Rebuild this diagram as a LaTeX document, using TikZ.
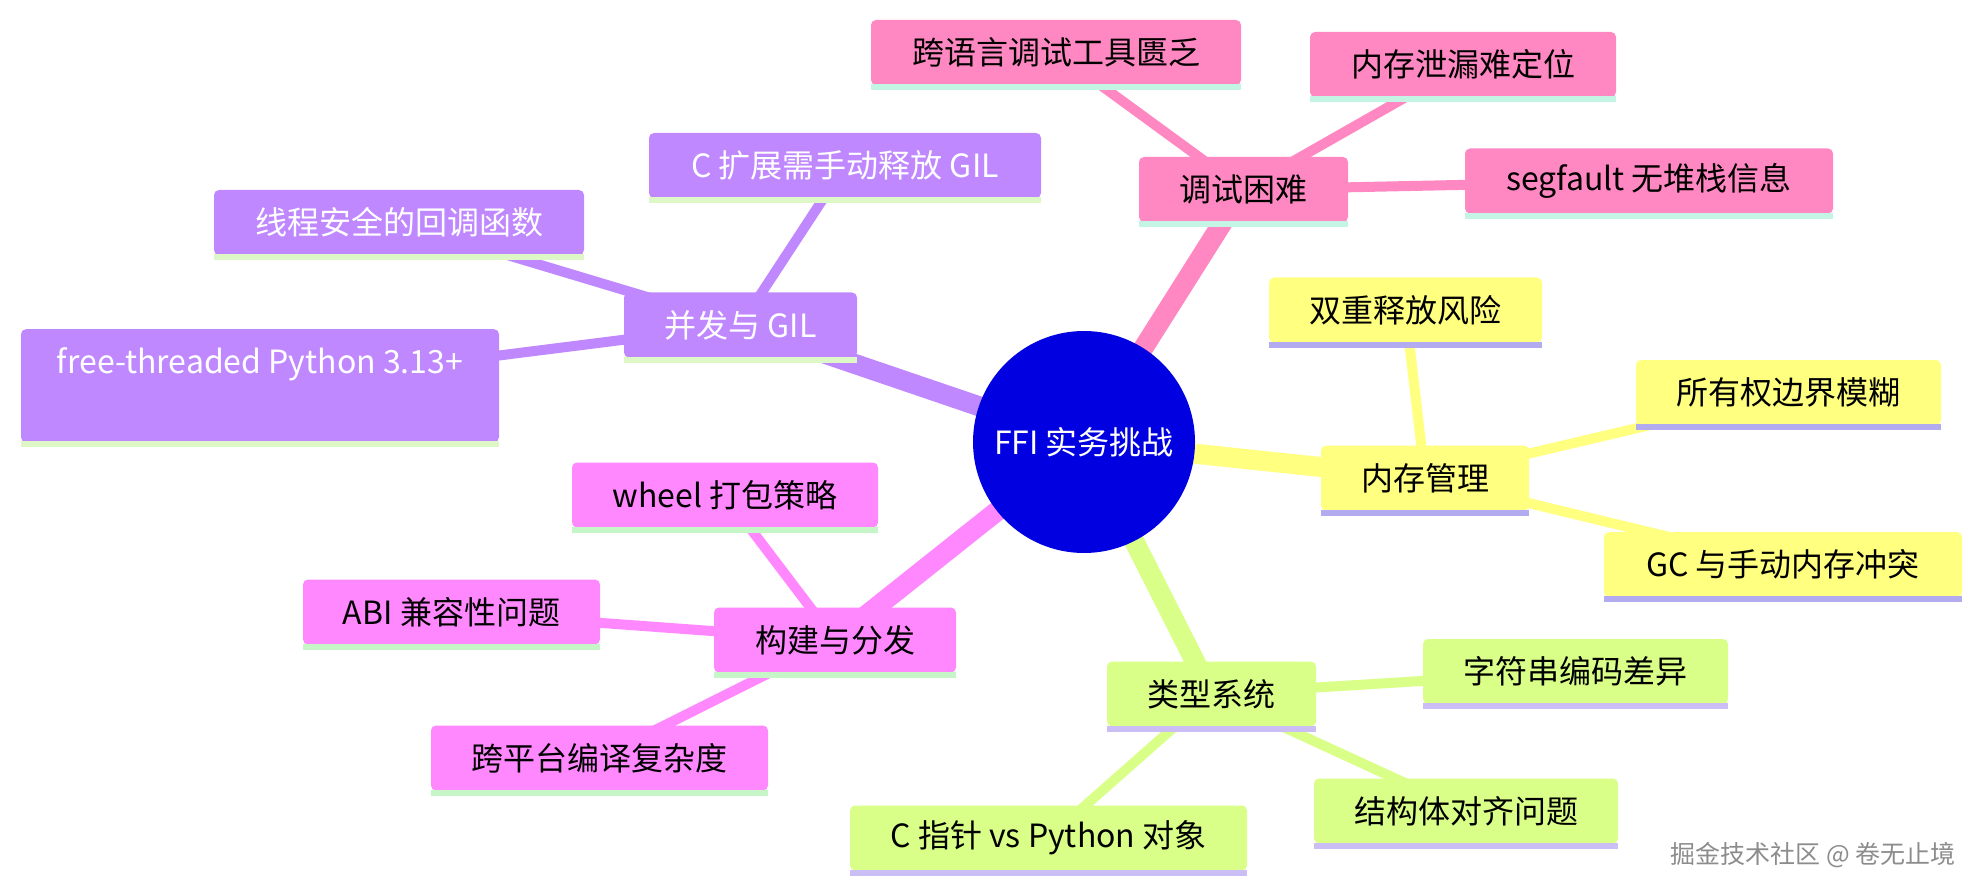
\documentclass[tikz,border=0pt]{standalone}
\usepackage{fontspec}
\setmainfont{Noto Sans CJK SC}
\usetikzlibrary{backgrounds}

\definecolor{rootfill}{HTML}{0000E0}
\definecolor{dbgfill}{HTML}{FF88C2}
\definecolor{dbgline}{HTML}{C4F5E4}
\definecolor{gilfill}{HTML}{C088FF}
\definecolor{gilline}{HTML}{DDF8C6}
\definecolor{bldfill}{HTML}{FF88FF}
\definecolor{bldline}{HTML}{C6F5C8}
\definecolor{memfill}{HTML}{FFFF80}
\definecolor{memline}{HTML}{B2ABF0}
\definecolor{typfill}{HTML}{D9FF88}
\definecolor{typline}{HTML}{CABEF5}

\tikzset{
  leaf/.style={rounded corners=5pt, minimum height=65pt, inner xsep=0pt, font=\fontsize{32}{38}\selectfont},
  trunk/.style={line width=20pt},
  twig/.style={line width=10pt},
}

\begin{document}
\begin{tikzpicture}[x=1pt, y=-1pt]
    \useasboundingbox (0,0) rectangle (1981,893);

    \node[circle, fill=rootfill, text=white, minimum size=222pt, font=\fontsize{32}{38}\selectfont] (root) at (1084,442) {FFI 实务挑战};

    \node[leaf, fill=dbgfill, minimum width=209pt] (dbg) at (1243.5,189.5) {调试困难};
    \node[leaf, fill=dbgfill, minimum width=370pt] (dbg1) at (1056,52.5) {跨语言调试工具匮乏};
    \node[leaf, fill=dbgfill, minimum width=306pt] (dbg2) at (1463,64.5) {内存泄漏难定位};
    \node[leaf, fill=dbgfill, minimum width=368pt] (dbg3) at (1649,181) {segfault 无堆栈信息};

    \node[leaf, fill=gilfill, text=white, minimum width=233pt] (gil) at (740.5,325) {并发与 GIL};
    \node[leaf, fill=gilfill, text=white, minimum width=392pt] (gil1) at (845,165.5) {C 扩展需手动释放 GIL};
    \node[leaf, fill=gilfill, text=white, minimum width=370pt] (gil2) at (399,222.5) {线程安全的回调函数};
    \node[leaf, fill=gilfill, text=white, minimum width=478pt, minimum height=0pt, inner ysep=0pt, text height=44pt, text depth=69pt, anchor=north] (gil3) at (260,329) {free-threaded Python 3.13+};

    \node[leaf, fill=bldfill, minimum width=242pt] (bld) at (835,640) {构建与分发};
    \node[leaf, fill=bldfill, minimum width=306pt] (bld1) at (725,495) {wheel 打包策略};
    \node[leaf, fill=bldfill, minimum width=297pt] (bld2) at (451.5,612) {ABI 兼容性问题};
    \node[leaf, fill=bldfill, minimum width=337pt] (bld3) at (599.5,758) {跨平台编译复杂度};

    \node[leaf, fill=memfill, minimum width=208pt] (mem) at (1425,478) {内存管理};
    \node[leaf, fill=memfill, minimum width=273pt] (mem1) at (1405.5,310) {双重释放风险};
    \node[leaf, fill=memfill, minimum width=305pt] (mem2) at (1788.5,392.5) {所有权边界模糊};
    \node[leaf, fill=memfill, minimum width=358pt] (mem3) at (1783,564.5) {GC 与手动内存冲突};

    \node[leaf, fill=typfill, minimum width=209pt] (typ) at (1211.5,694) {类型系统};
    \node[leaf, fill=typfill, minimum width=305pt] (typ1) at (1575.5,671.5) {字符串编码差异};
    \node[leaf, fill=typfill, minimum width=304pt] (typ2) at (1466,811) {结构体对齐问题};
    \node[leaf, fill=typfill, minimum width=397pt] (typ3) at (1048.5,838) {C 指针 vs Python 对象};

    \node[text=black!45, font=\fontsize{25}{29}\selectfont] (mark) at (1813,855) {掘金技术社区 @ 卷无止境};

    \foreach \n/\c in {dbg/dbgline, dbg1/dbgline, dbg2/dbgline, dbg3/dbgline,
                       gil/gilline, gil1/gilline, gil2/gilline, gil3/gilline,
                       bld/bldline, bld1/bldline, bld2/bldline, bld3/bldline,
                       mem/memline, mem1/memline, mem2/memline, mem3/memline,
                       typ/typline, typ1/typline, typ2/typline, typ3/typline}
        \fill[\c] ([yshift=1pt]\n.south west) rectangle ([yshift=-5pt]\n.south east);

    \begin{scope}[on background layer]
        \draw[trunk, dbgfill] (root.center) -- (dbg.center);
        \draw[trunk, gilfill] (root.center) -- (gil.center);
        \draw[trunk, bldfill] (root.center) -- (bld.center);
        \draw[trunk, memfill] (root.center) -- (mem.center);
        \draw[trunk, typfill] (root.center) -- (typ.center);
        \foreach \p/\c in {dbg/dbgfill, gil/gilfill, bld/bldfill, mem/memfill, typ/typfill}
            \foreach \k in {1,2,3}
                \draw[twig, \c] (\p.center) -- (\p\k.center);
    \end{scope}
\end{tikzpicture}
\end{document}
